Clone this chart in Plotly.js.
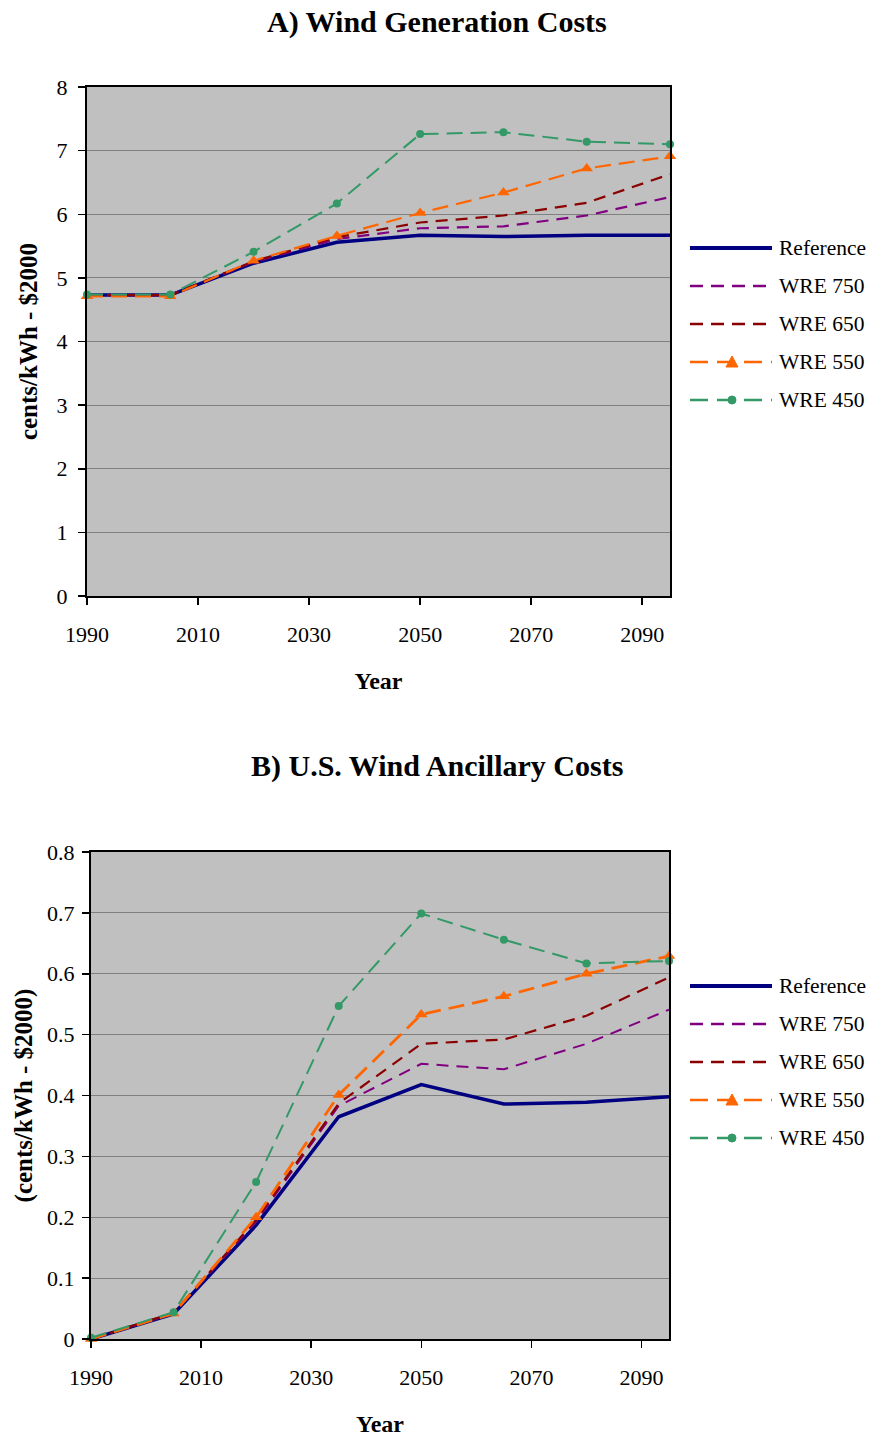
<!DOCTYPE html>
<html><head><meta charset="utf-8">
<script src="https://cdn.plot.ly/plotly-3.0.1.min.js"></script>
<style>html,body{margin:0;padding:0;background:#fff}</style>
</head><body><div id="chart" style="width:875px;height:1439px"></div>
<script>
// ---- data ----
const years = [1990, 2005, 2020, 2035, 2050, 2065, 2080, 2095];
const seriesNames = ["Reference", "WRE 750", "WRE 650", "WRE 550", "WRE 450"];
// A) Wind Generation Costs (cents/kWh - $2000)
const genReference = [4.73, 4.73, 5.23, 5.56, 5.67, 5.65, 5.67, 5.67];
const genWre750 = [4.73, 4.73, 5.25, 5.61, 5.78, 5.81, 5.98, 6.27];
const genWre650 = [4.73, 4.73, 5.26, 5.64, 5.87, 5.98, 6.18, 6.63];
const genWre550 = [4.71, 4.71, 5.27, 5.66, 6.02, 6.34, 6.72, 6.91];
const genWre450 = [4.74, 4.74, 5.41, 6.17, 7.26, 7.29, 7.14, 7.10];
// B) U.S. Wind Ancillary Costs (cents/kWh - $2000)
const ancReference = [0.000, 0.041, 0.187, 0.365, 0.418, 0.386, 0.389, 0.398];
const ancWre750 = [0.000, 0.042, 0.193, 0.383, 0.452, 0.443, 0.485, 0.541];
const ancWre650 = [0.000, 0.043, 0.196, 0.387, 0.485, 0.492, 0.531, 0.594];
const ancWre550 = [0.000, 0.042, 0.200, 0.401, 0.533, 0.563, 0.600, 0.629];
const ancWre450 = [0.002, 0.044, 0.258, 0.547, 0.699, 0.656, 0.617, 0.621];
const xTickVals = [1990, 2010, 2030, 2050, 2070, 2090];

// ---- styles ----
const W = 875, H = 1439;
const FONT = "Liberation Serif, Times New Roman, serif";
const styles = [
  {color: "#000080", width: 3.5, dash: "solid", symbol: null},
  {color: "#800080", width: 2.2, dash: "12px,8px", symbol: null},
  {color: "#8B0000", width: 2.2, dash: "12px,8px", symbol: null},
  {color: "#FF6600", width: 2.2, dash: "16px,8px", symbol: "triangle-up"},
  {color: "#339966", width: 2.0, dash: "16px,8px", symbol: "circle"}
];
const stylesB = [
  {color: "#000080", width: 3.5, dash: "solid", symbol: null},
  {color: "#800080", width: 2.0, dash: "12px,8px", symbol: null},
  {color: "#8B0000", width: 2.2, dash: "12px,8px", symbol: null},
  {color: "#FF6600", width: 2.8, dash: "16px,8px", symbol: "triangle-up"},
  {color: "#339966", width: 2.0, dash: "16px,8px", symbol: "circle"}
];

function mk(y, i, xa, ya, st) {
  const s = st[i];
  const t = {
    x: years, y: y, type: "scatter", name: seriesNames[i],
    xaxis: xa, yaxis: ya, showlegend: false, cliponaxis: false,
    mode: s.symbol ? "lines+markers" : "lines",
    line: {color: s.color, width: s.width, dash: s.dash}
  };
  if (s.symbol) t.marker = {symbol: s.symbol, size: s.symbol === "circle" ? 8 : 11, color: s.color};
  return t;
}
const gen = [genReference, genWre750, genWre650, genWre550, genWre450];
const anc = [ancReference, ancWre750, ancWre650, ancWre550, ancWre450];
const data = [];
gen.forEach((y, i) => data.push(mk(y, i, "x", "y", styles)));
anc.forEach((y, i) => data.push(mk(y, i, "x2", "y2", stylesB)));

// px -> paper helpers
const px = v => v / W;
const py = v => 1 - v / H;

const axCommon = {
  showline: true, linecolor: "#000", linewidth: 2, mirror: true,
  ticks: "outside", ticklen: 7, tickcolor: "#000", tickwidth: 1.5,
  tickfont: {family: FONT, size: 22, color: "#000"},
  zeroline: false
};
const xCommon = Object.assign({}, axCommon, {
  range: [1990, 2095], tickvals: xTickVals, showgrid: false, ticklabelstandoff: 11,
  title: {text: "<b>Year</b>", font: {family: FONT, size: 24, color: "#000"}, standoff: 26}
});

const shapes = [], annotations = [];
function legendBlock(rowsY, st) {
  rowsY.forEach((yy, i) => {
    const s = st[i];
    shapes.push({type: "line", xref: "paper", yref: "paper",
      x0: px(690), x1: px(772), y0: py(yy), y1: py(yy),
      line: {color: s.color, width: i === 0 ? 3.8 : 2.5, dash: i === 0 ? "solid" : (i < 3 ? "13px,8px" : "18px,9px")}});
    if (s.symbol === "triangle-up") {
      shapes.push({type: "path", xref: "paper", yref: "paper", fillcolor: s.color, line: {color: s.color, width: 1},
        path: `M ${px(732)} ${py(yy - 6)} L ${px(738)} ${py(yy + 5)} L ${px(726)} ${py(yy + 5)} Z`});
    } else if (s.symbol === "circle") {
      shapes.push({type: "circle", xref: "paper", yref: "paper", fillcolor: s.color, line: {color: s.color, width: 1},
        x0: px(728), x1: px(736), y0: py(yy + 4), y1: py(yy - 4)});
    }
    annotations.push({xref: "paper", yref: "paper", x: px(777), y: py(yy), xanchor: "left", yanchor: "middle",
      showarrow: false, text: seriesNames[i], font: {family: FONT, size: 21.5, color: "#000"}});
  });
}
legendBlock([248, 286, 324, 362, 400], styles);
legendBlock([986, 1024, 1062, 1100, 1138], stylesB);

annotations.push({xref: "paper", yref: "paper", x: px(437), y: py(22), xanchor: "center", yanchor: "middle",
  showarrow: false, text: "<b>A) Wind Generation Costs</b>", font: {family: FONT, size: 30, color: "#000"}});
annotations.push({xref: "paper", yref: "paper", x: px(437), y: py(766), xanchor: "center", yanchor: "middle",
  showarrow: false, text: "<b>B) U.S. Wind Ancillary Costs</b>", font: {family: FONT, size: 30, color: "#000"}});

const layout = {
  width: W, height: H, margin: {l: 0, r: 0, t: 0, b: 0},
  paper_bgcolor: "#fff", plot_bgcolor: "#C0C0C0", showlegend: false,
  xaxis: Object.assign({}, xCommon, {domain: [px(87), px(670)], anchor: "y"}),
  yaxis: Object.assign({}, axCommon, {domain: [py(596), py(87)], anchor: "x", range: [0, 8], dtick: 1,
    ticklabelstandoff: 6, showgrid: true, gridcolor: "#808080", gridwidth: 1,
    title: {text: "<b>cents/kWh - $2000</b>", font: {family: FONT, size: 25, color: "#000"}, standoff: 12}}),
  xaxis2: Object.assign({}, xCommon, {domain: [px(91), px(669)], anchor: "y2"}),
  yaxis2: Object.assign({}, axCommon, {domain: [py(1339), py(852)], anchor: "x2", range: [0, 0.8], dtick: 0.1,
    ticklabelstandoff: 3, showgrid: true, gridcolor: "#808080", gridwidth: 1,
    title: {text: "<b>(cents/kWh - $2000)</b>", font: {family: FONT, size: 25, color: "#000"}, standoff: 7}}),
  shapes: shapes, annotations: annotations
};
Plotly.newPlot("chart", data, layout, {displayModeBar: false, staticPlot: true});
</script></body></html>
